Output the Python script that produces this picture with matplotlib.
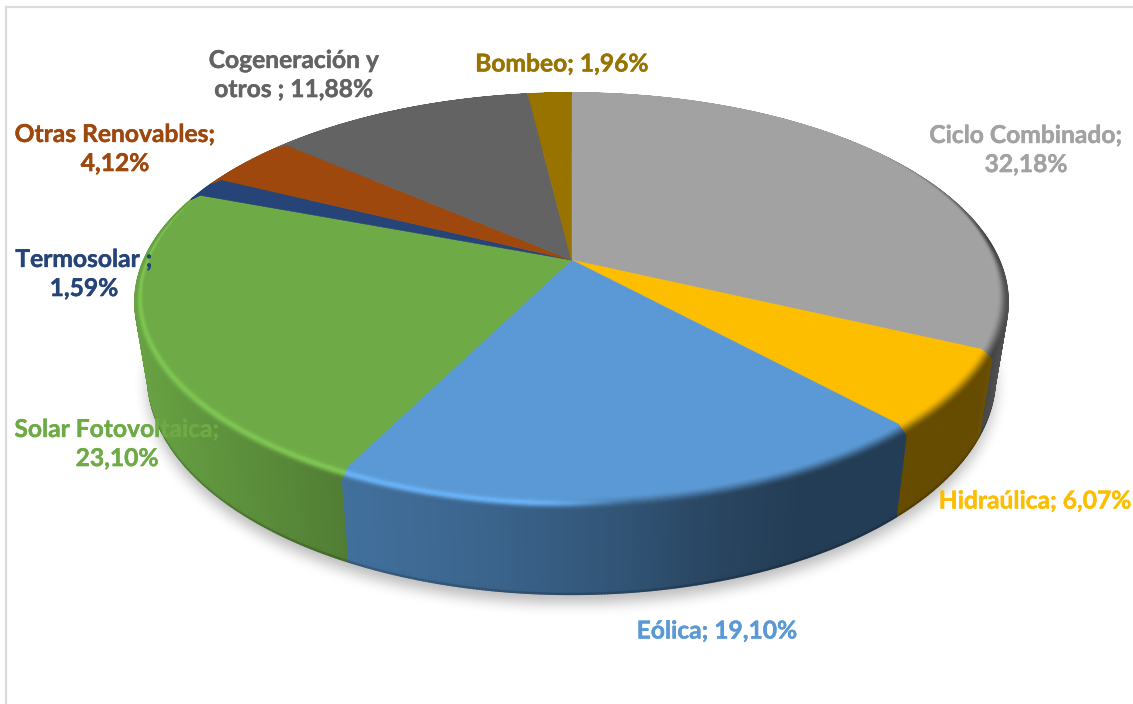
import numpy as np
import matplotlib
matplotlib.use("Agg")
import matplotlib.pyplot as plt
import matplotlib.patheffects as pe
from matplotlib.collections import PolyCollection
from matplotlib.colors import to_rgb
from matplotlib.patches import Polygon
from matplotlib.path import Path

# Generation mix, clockwise from twelve o'clock
categories = ["Ciclo Combinado", "Hidraúlica", "Eólica", "Solar Fotovoltaica",
              "Termosolar", "Otras Renovables", "Cogeneración y otros", "Bombeo"]
shares = [32.18, 6.07, 19.10, 23.10, 1.59, 4.12, 11.88, 1.96]
slice_colors = ["#A2A2A2", "#FDBE00", "#5A99D6", "#6EAB47",
                "#264478", "#9E480E", "#636363", "#997300"]

# Label wording and placement (line break included where the label wraps)
label_formats = ["Ciclo Combinado;\n{}", "Hidraúlica; {}", "Eólica; {}",
                 "Solar Fotovoltaica;\n{}", "Termosolar ;\n{}",
                 "Otras Renovables;\n{}", "Cogeneración y\notros ; {}", "Bombeo; {}"]
label_centers = [(1026, 150), (1035, 501), (717, 631), (117, 444),
                 (84, 274), (115, 149), (294, 75), (562, 64)]

W, H = 1133, 704
CX, CY = 571.5, 260.0
A, B, K = 424.0, 198.0, 0.185   # projection of the unit disc with perspective
BEVEL_DX, BEVEL_DY = 0.012, 6.5

plt.rcParams["font.family"] = ["Lato", "DejaVu Sans"]
fig = plt.figure(figsize=(W / 100, H / 100), dpi=100, facecolor="white")
ax = fig.add_axes([0, 0, 1, 1])


def rim(theta, s=0.0):
    """Screen position on the top rim; s runs across the bevel from -1 to 1."""
    X, Y = np.sin(theta), np.cos(theta)
    w = 1 + K * Y
    x = CX + A * X / w * (1 + s * BEVEL_DX)
    y = CY - B * Y / w + s * BEVEL_DY * (1 - Y) / 2
    return x, y


def base(theta):
    """Screen position on the lower edge of the cylinder wall."""
    x, y = rim(theta)
    return CX + (x - CX) * 0.983, y + 74.5 - 17 * np.cos(theta)


def wall_shade(x):
    return np.interp(x, [135, 200, 347, 500, 620, 720, 800, 985, 1008],
                     [.95, .88, .73, .65, .55, .45, .40, .40, .52])


def box_blur(img, r):
    for axis in (0, 1):
        for _ in range(3):
            c = np.cumsum(img, axis=axis)
            pad = np.zeros_like(np.take(c, [0], axis=axis))
            c = np.concatenate([pad, c], axis=axis)
            n = img.shape[axis]
            hi = np.clip(np.arange(n) + r + 1, 0, n)
            lo = np.clip(np.arange(n) - r, 0, n)
            img = (np.take(c, hi, axis=axis) - np.take(c, lo, axis=axis)) / (2 * r + 1)
    return img


edges = np.concatenate([[0], np.cumsum(shares)]) / np.sum(shares) * 2 * np.pi
colors = np.array([to_rgb(c) for c in slice_colors])

# Soft drop shadow under the cylinder
t = np.linspace(0, 2 * np.pi, 400)
bx, by = base(t)
gx, gy = np.meshgrid(np.arange(W) + .5, np.arange(H) + .5)
mask = Path(np.c_[bx, by + 9]).contains_points(np.c_[gx.ravel(), gy.ravel()]).reshape(H, W)
soft = box_blur(mask.astype(float), 6)
shadow = np.zeros((H, W, 4))
shadow[..., 3] = soft * 0.27
ax.imshow(shadow, extent=(0, W, H, 0), aspect="auto", interpolation="bilinear", zorder=1)

# Cylinder wall, painted back to front; each strip overlaps its neighbour
wall_quads, wall_cols, wall_depth = [], [], []
for i in range(len(shares)):
    n = max(3, int((edges[i + 1] - edges[i]) / np.radians(0.35)))
    th = np.linspace(edges[i], edges[i + 1], n + 1)
    for a0, a1 in zip(th[:-1], th[1:]):
        x0, y0 = rim(a0, 1)
        x1, y1 = rim(a1, 1)
        x2, y2 = base(a1)
        x3, y3 = base(a0)
        shade = wall_shade((x0 + x1) / 2)
        # darker lip along the lower edge, then the main wall over it
        wall_quads.append([(x3, y3 - 6), (x2, y2 - 6), (x2, y2), (x3, y3)])
        wall_cols.append(colors[i] * shade * .82)
        wall_depth.append(np.cos(a0) + .001)
        wall_quads.append([(x0, y0), (x1, y1), (x2, y2 - 2.5), (x3, y3 - 2.5)])
        wall_cols.append(colors[i] * shade)
        wall_depth.append(np.cos(a0))
order = np.argsort(wall_depth)[::-1]
ax.add_collection(PolyCollection([wall_quads[j] for j in order],
                                 facecolors=[wall_cols[j] for j in order],
                                 edgecolors=[wall_cols[j] for j in order],
                                 linewidths=1.0, zorder=2))

# Flat top of every slice
for i in range(len(shares)):
    n = max(3, int((edges[i + 1] - edges[i]) / np.radians(0.5)))
    th = np.linspace(edges[i], edges[i + 1], n + 1)
    x, y = rim(th, -1)
    ax.add_patch(Polygon(np.r_[[[CX, CY]], np.c_[x, y]], closed=True,
                         facecolor=colors[i], edgecolor=colors[i], lw=.4, zorder=3))

# Rounded bevel between top and wall: highlight on the left, dark on the right
bands = np.linspace(-1, 1, 13)
bev_quads, bev_cols = [], []
for i in range(len(shares)):
    n = max(3, int((edges[i + 1] - edges[i]) / np.radians(0.5)))
    th = np.linspace(edges[i], edges[i + 1], n + 1)
    top = colors[i]
    for a0, a1 in zip(th[:-1], th[1:]):
        mid = (a0 + a1) / 2
        xm = rim(mid)[0]
        wall = top * wall_shade(xm)
        u = np.clip((640 - xm) / 120, 0, 1)
        light = u * u * (3 - 2 * u)
        bright = np.clip(top * 1.2, 0, 1)
        # the bevel dies away towards the far side of the disc
        fade = np.clip((0.6 - np.cos(mid)) / 0.5, 0, 1)
        for s0, s1 in zip(bands[:-1], bands[1:]):
            s = (s0 + s1) / 2
            v = np.clip((s + 1) / 2, 0, 1)
            edge = .45 + .2 * light
            v_mix = (1 - light) * (v * v * (3 - 2 * v)) + light * np.clip((v - edge) / (1 - edge), 0, 1)
            col = top + (wall - top) * v_mix * fade
            col = col + (bright - col) * light * fade * np.exp(-((s - .05) / .42) ** 2) * .8
            col = np.clip(col, 0, 1)
            q = [rim(a0, s0), rim(a1, s0), rim(a1, s1), rim(a0, s1)]
            bev_quads.append(q)
            bev_cols.append(col)
ax.add_collection(PolyCollection(bev_quads, facecolors=bev_cols, edgecolors=bev_cols,
                                 linewidths=.5, zorder=4))

# Data labels with decimal commas
for fmt, value, col, (lx, ly) in zip(label_formats, shares, slice_colors, label_centers):
    text = fmt.format(f"{value:.2f}%".replace(".", ","))
    txt = ax.text(lx, ly, text, color=col, fontsize=17.7, fontweight="bold", ha="center",
                  va="center", linespacing=1.32, zorder=6)
    txt.set_path_effects([pe.withStroke(linewidth=.3, foreground=col)])

# Chart area outline along the top and left
ax.plot([6, 6, W], [H, 6.5, 6.5], color="#DCDCDC", lw=1.6, zorder=0, solid_joinstyle="miter")

ax.set_xlim(0, W)
ax.set_ylim(H, 0)
ax.axis("off")
fig.savefig("out.png", dpi=100, facecolor="white")
